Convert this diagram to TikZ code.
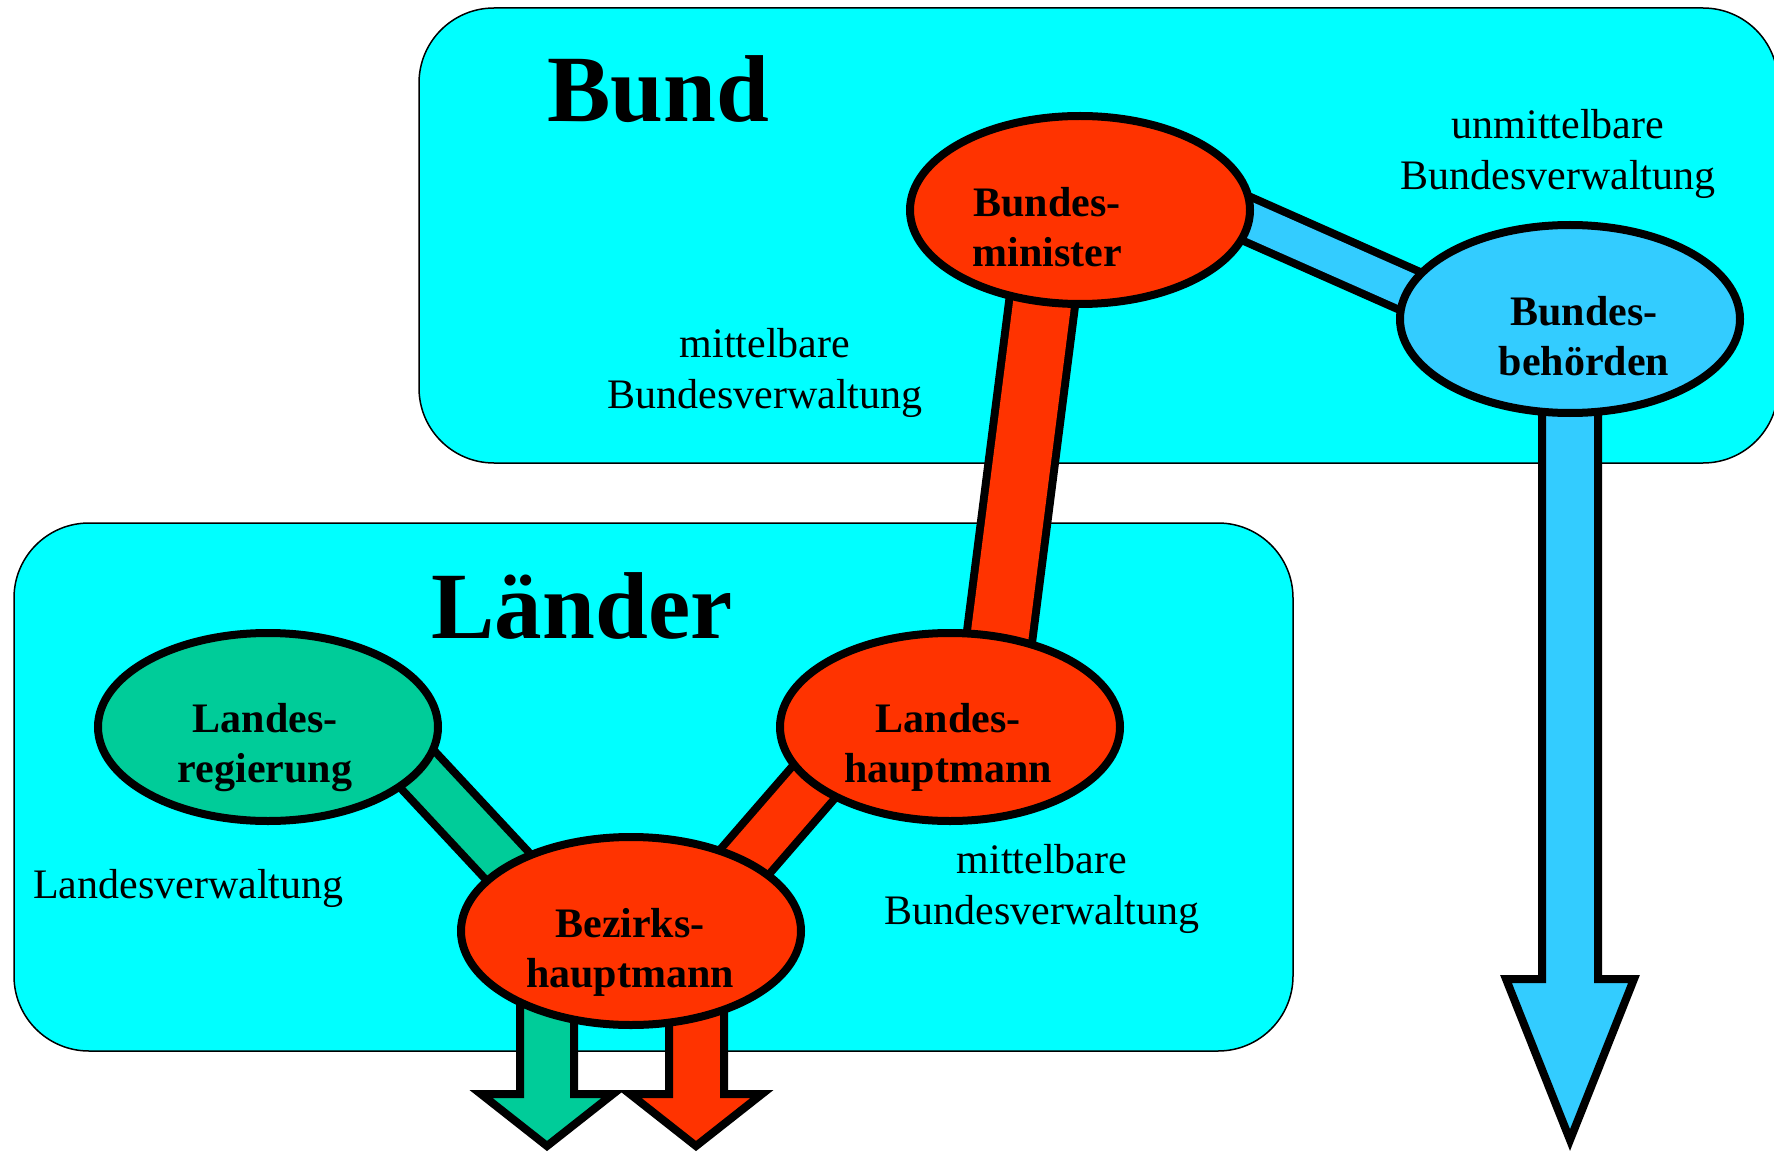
\documentclass[tikz,border=0pt]{standalone}
\usepackage{fontspec}
\setmainfont{Liberation Serif}
\usetikzlibrary{shapes.geometric,calc}
\definecolor{boxcyan}{HTML}{00FFFF}
\definecolor{orgred}{HTML}{FF3300}
\definecolor{orgblue}{HTML}{33CCFF}
\definecolor{orggreen}{HTML}{00CC99}
\pgfdeclarelayer{regions}
\pgfdeclarelayer{links}
\pgfsetlayers{regions,links,main}
\newcommand\fatband[5]{%
  \draw[black,line width=#2pt,line cap=butt] #4 -- #5;
  \draw[#1,line width=#3pt,line cap=butt] #4 -- #5;}
\begin{document}
\begin{tikzpicture}[x=1pt,y=-1pt,
  region/.style={draw=black,line width=1.5pt,fill=boxcyan,rounded corners=75pt},
  organ/.style={ellipse,draw=black,line width=8pt,minimum width=340pt,minimum height=188pt,inner sep=0pt},
  orglabel/.style={font=\fontsize{42}{50}\selectfont\bfseries,align=center,anchor=north,inner sep=0pt},
  note/.style={font=\fontsize{42}{51}\selectfont,align=center,anchor=north,inner sep=0pt},
  title/.style={font=\fontsize{95}{110}\selectfont\bfseries,anchor=base,inner sep=0pt},
  fatarrow/.style={draw=black,line width=8pt,line join=miter}]
\useasboundingbox (0,0) rectangle (1774,1155);

% ellipses
\node[organ,fill=orgred]   (bm) at (1080,210) {};
\node[organ,fill=orgblue]  (bb) at (1570,319) {};
\node[organ,fill=orggreen] (lr) at (268,727) {};
\node[organ,fill=orgred]   (lh) at (950,727) {};
\node[organ,fill=orgred]   (bz) at (631,931) {};

% regions
\begin{pgfonlayer}{regions}
\path[region] (419,8) rectangle (1778,463);
\path[region] (14,523) rectangle (1293,1051);
\end{pgfonlayer}

% links and arrows
\begin{pgfonlayer}{links}
\fatband{orgblue}{51}{35}{($(bm.center)+(70,-34)$)}{($(bb.center)+(-90,3)$)}
\fatband{orgred}{74}{58}{($(bm.center)+(-26,0)$)}{($(lh.center)+(38,0)$)}
\fatband{orggreen}{58}{42}{($(lr.center)+(68,-45)$)}{($(bz.center)+(-77,-15)$)}
\fatband{orgred}{61}{45}{($(lh.center)+(-71,-20)$)}{($(bz.center)+(84,-35)$)}
\begin{scope}[shift={(bb.center)}]
  \draw[fatarrow,fill=orgblue] (-28,11) -- (-28,660) -- (-64,660) -- (0,821) -- (64,660) -- (28,660) -- (28,11) -- cycle;
\end{scope}
\begin{scope}[shift={(bz.center)}]
  \draw[fatarrow,fill=orggreen] (-111,54) -- (-111,163) -- (-150,163) -- (-84,215) -- (-18,163) -- (-57,163) -- (-57,54) -- cycle;
  \draw[fatarrow,fill=orgred] (38,54) -- (38,163) -- (-1,163) -- (65,215) -- (131,163) -- (93,163) -- (93,54) -- cycle;
\end{scope}
\end{pgfonlayer}

% titles
\node[title] (bund) at (658,122) {Bund};
\node[title] (laender) at (582,638) {Länder};

% organ labels
\node[orglabel] (bmtext) at (1047,187) {Bundes-\\minister};
\node[orglabel] (bbtext) at (1584,296) {Bundes-\\behörden};
\node[orglabel] (lrtext) at (265,703) {Landes-\\regierung};
\node[orglabel] (lhtext) at (948,703) {Landes-\\hauptmann};
\node[orglabel] (bztext) at (630,908) {Bezirks-\\hauptmann};

% notes
\node[note] (mbv1) at (765,328) {mittelbare\\Bundesverwaltung};
\node[note] (ubv) at (1558,109) {unmittelbare\\Bundesverwaltung};
\node[note] (mbv2) at (1042,844) {mittelbare\\Bundesverwaltung};
\node[font=\fontsize{42}{51}\selectfont,anchor=base west,inner sep=0pt] (lv) at (33,898) {Landesverwaltung};
\end{tikzpicture}
\end{document}
